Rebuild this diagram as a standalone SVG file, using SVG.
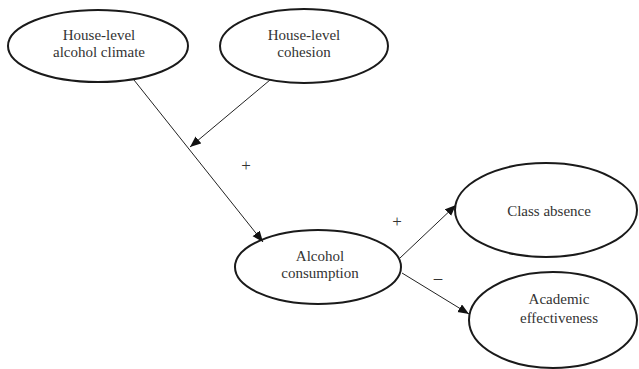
<svg xmlns="http://www.w3.org/2000/svg" width="639" height="369" viewBox="0 0 639 369">
<style>
.node ellipse{fill:#fff;stroke:#1a1a1a;stroke-width:2}
.node text{font-family:"Liberation Serif","Times New Roman",serif;font-size:15px;fill:#333;text-anchor:middle}
.conn line{stroke:#222;stroke-width:1;marker-end:url(#ah)}
.sign{font-family:"Liberation Serif","Times New Roman",serif;font-size:17px;fill:#333;text-anchor:middle}
</style>
<defs>
<marker id="ah" markerUnits="userSpaceOnUse" markerWidth="12" markerHeight="10" refX="11" refY="4.5" orient="auto">
<path d="M0,0 L11,4.5 L0,9 Z" fill="#111"/>
</marker>
</defs>
<rect width="639" height="369" fill="#fff"/>
<g id="climate" class="node">
<ellipse cx="98" cy="46" rx="90" ry="36"/>
<text x="99" y="40">House-level</text>
<text x="99" y="57">alcohol climate</text>
</g>
<g id="cohesion" class="node">
<ellipse cx="304" cy="46" rx="84" ry="37"/>
<text x="304" y="40">House-level</text>
<text x="304" y="57">cohesion</text>
</g>
<g id="consumption" class="node">
<ellipse cx="318" cy="267" rx="83" ry="37"/>
<text x="320" y="261">Alcohol</text>
<text x="320" y="278">consumption</text>
</g>
<g id="absence" class="node">
<ellipse cx="546" cy="210" rx="91" ry="47"/>
<text x="549" y="216">Class absence</text>
</g>
<g id="academic" class="node">
<ellipse cx="553" cy="320" rx="84" ry="48"/>
<text x="559" y="304">Academic</text>
<text x="559" y="323">effectiveness</text>
</g>
<g id="connectors" class="conn">
<line x1="134" y1="80" x2="263" y2="242"/>
<line x1="270" y1="80" x2="190" y2="147"/>
<line x1="400" y1="258" x2="456" y2="205"/>
<line x1="402" y1="273" x2="469" y2="314"/>
</g>
<g id="signs">
<text class="sign" x="246" y="171">+</text>
<text class="sign" x="397" y="227">+</text>
<text class="sign" x="438" y="283">–</text>
</g>
</svg>
